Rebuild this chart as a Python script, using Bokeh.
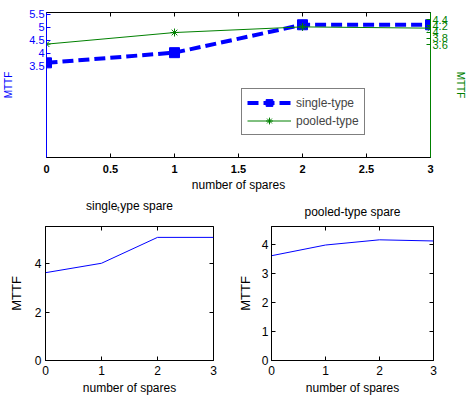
from bokeh.plotting import figure
from bokeh.models import Range1d, LinearAxis, FixedTicker, Legend, LegendItem
from bokeh.layouts import column, row
from bokeh.embed import file_html
from bokeh.resources import INLINE

# ---- data ----
spares = [0, 1, 2, 3]
single_mttf = [3.63, 4.02, 5.09, 5.09]
pooled_mttf = [3.62, 3.99, 4.17, 4.13]

top_x_ticks = [0, 0.5, 1, 1.5, 2, 2.5, 3]
top_left_ticks = [3.5, 4, 4.5, 5, 5.5]
top_right_ticks = [3.6, 3.8, 4, 4.2, 4.4]
bl_y_ticks = [0, 2, 4]
br_y_ticks = [0, 1, 2, 3, 4]
bottom_x_ticks = [0, 1, 2, 3]

FONT = "Liberation Sans"
BLUE = "#0000ff"
GREEN = "#008000"


def fmt(v):
    return ("%g" % v)


def style_axis(ax, ticks, color="black", size="11px", bold=False, standoff=4):
    ax.ticker = FixedTicker(ticks=ticks)
    ax.major_label_overrides = {t: fmt(t) for t in ticks}
    ax.major_tick_in = 4
    ax.major_tick_out = 0
    ax.minor_tick_line_color = None
    ax.axis_line_color = color
    ax.major_tick_line_color = color
    ax.major_label_text_color = color
    ax.major_label_text_font = FONT
    ax.major_label_text_font_size = size
    ax.major_label_text_font_style = "bold" if bold else "normal"
    ax.major_label_standoff = standoff
    ax.axis_label_text_font = FONT
    ax.axis_label_text_font_style = "normal"
    ax.axis_label_text_color = color


def mirror_axis(fig, place, ticks, color="black", label=None, label_standoff=0, **kw):
    ax = LinearAxis(ticker=FixedTicker(ticks=ticks), **kw)
    ax.major_label_overrides = {t: "" for t in ticks}
    ax.major_label_standoff = 0
    ax.major_label_text_font_size = "1px"
    ax.major_tick_in = 4
    ax.major_tick_out = 0
    ax.minor_tick_line_color = None
    ax.axis_line_color = None
    ax.major_tick_line_color = color
    if label is not None:
        # subplot heading drawn as the label of the mirrored top axis
        ax.axis_label = label
        ax.axis_label_standoff = label_standoff
        ax.axis_label_text_font = FONT
        ax.axis_label_text_font_size = "12px"
        ax.axis_label_text_font_style = "normal"
        ax.axis_label_text_color = "black"
    fig.add_layout(ax, place)


# ---- top plot (plotyy) ----
top = figure(width=468, height=194, x_range=Range1d(0, 3), y_range=Range1d(0, 5.56),
             output_backend="svg", toolbar_location=None,
             min_border_left=45, min_border_right=35, min_border_top=12, min_border_bottom=37)
top.extra_y_ranges = {"pooled": Range1d(0, 4.63)}
top.xgrid.visible = False
top.ygrid.visible = False
top.outline_line_color = "black"
top.background_fill_color = "white"

style_axis(top.xaxis[0], top_x_ticks, bold=True, standoff=7)
top.xaxis[0].axis_label = "number of spares"
top.xaxis[0].axis_label_text_font_size = "12px"
top.xaxis[0].axis_label_standoff = 2

style_axis(top.yaxis[0], top_left_ticks, color=BLUE, standoff=2)
top.yaxis[0].axis_label = "MTTF"
top.yaxis[0].axis_label_text_font_size = "10px"
top.yaxis[0].axis_label_standoff = 12

right_ax = LinearAxis(y_range_name="pooled")
style_axis(right_ax, top_right_ticks, color=GREEN, standoff=2)
right_ax.axis_label = "MTTF"
right_ax.axis_label_text_font_size = "10px"
right_ax.axis_label_standoff = 4
top.add_layout(right_ax, "right")

mirror_axis(top, "above", top_x_ticks)

l1 = top.line(spares, single_mttf, line_color=BLUE, line_width=4, line_dash="11 5")
s1 = top.scatter(spares, single_mttf, marker="square", size=10, fill_color=BLUE, line_color=BLUE)
l2 = top.line(spares, pooled_mttf, y_range_name="pooled", line_color=GREEN, line_width=1)
s2 = top.scatter(spares, pooled_mttf, y_range_name="pooled", marker="asterisk", size=8,
                 line_color=GREEN, line_width=1)

legend = Legend(items=[LegendItem(label="single-type", renderers=[l1, s1]),
                       LegendItem(label="pooled-type", renderers=[l2, s2])],
                location=(195, 22), padding=5, spacing=1, margin=0,
                glyph_width=44, glyph_height=17, label_height=17, label_standoff=5,
                label_text_font=FONT, label_text_font_size="12px",
                border_line_color="black", border_line_width=1,
                background_fill_color="white", background_fill_alpha=1)
top.add_layout(legend)

# ---- bottom-left ----
bl = figure(width=234, height=205, x_range=Range1d(0, 3), y_range=Range1d(0, 5.54),
            output_backend="svg", toolbar_location=None,
            min_border_left=45, min_border_right=21, min_border_top=32, min_border_bottom=39)
bl.xgrid.visible = False
bl.ygrid.visible = False
bl.outline_line_color = "black"
style_axis(bl.xaxis[0], bottom_x_ticks, size="12px", standoff=5)
bl.xaxis[0].axis_label = "number of spares"
bl.xaxis[0].axis_label_text_font_size = "12px"
bl.xaxis[0].axis_label_standoff = 3
style_axis(bl.yaxis[0], bl_y_ticks, size="12px", standoff=4)
bl.yaxis[0].axis_label = "MTTF"
bl.yaxis[0].axis_label_text_font_size = "13px"
bl.yaxis[0].axis_label_standoff = 8
mirror_axis(bl, "above", bottom_x_ticks, label="single\u209cype spare", label_standoff=14)
mirror_axis(bl, "right", bl_y_ticks)
bl.line(spares, single_mttf, line_color=BLUE, line_width=1)

# ---- bottom-right ----
br = figure(width=234, height=205, x_range=Range1d(0, 3), y_range=Range1d(0, 4.63),
            output_backend="svg", toolbar_location=None,
            min_border_left=33, min_border_right=35, min_border_top=32, min_border_bottom=39)
br.xgrid.visible = False
br.ygrid.visible = False
br.outline_line_color = "black"
style_axis(br.xaxis[0], bottom_x_ticks, size="12px", standoff=5)
br.xaxis[0].axis_label = "number of spares"
br.xaxis[0].axis_label_text_font_size = "12px"
br.xaxis[0].axis_label_standoff = 3
style_axis(br.yaxis[0], br_y_ticks, size="12px", standoff=3)
br.yaxis[0].axis_label = "MTTF"
br.yaxis[0].axis_label_text_font_size = "13px"
br.yaxis[0].axis_label_standoff = 6
mirror_axis(br, "above", bottom_x_ticks, label="pooled-type spare", label_standoff=8)
mirror_axis(br, "right", br_y_ticks)
br.line(spares, pooled_mttf, line_color=BLUE, line_width=1)

layout = column(top, row(bl, br))
open("out.html", "w").write(file_html(layout, INLINE))
